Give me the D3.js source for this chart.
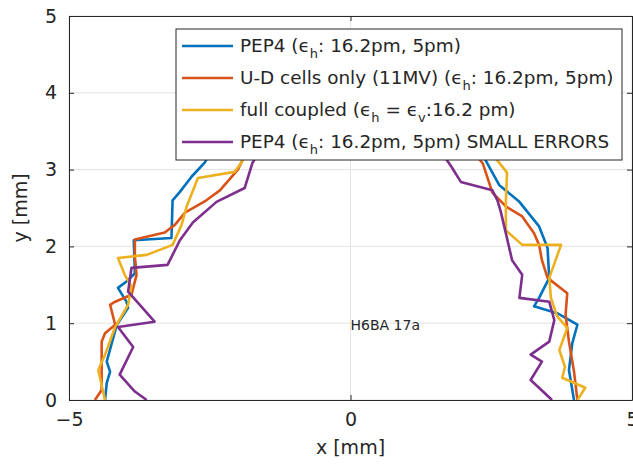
<!DOCTYPE html>
<html>
<head>
<meta charset="utf-8">
<script src="https://cdn.jsdelivr.net/npm/d3@7"></script>
<style>
  body { margin: 0; background: #fff; }
  text { font-family: "DejaVu Sans", sans-serif; fill: #262626; }
</style>
</head>
<body>
<div class="canva"></div>
<script>
// data (mm); top part of each curve sits under the legend
const pep4X = [-4.36,-4.33,-4.27,-4.33,-4.15,-3.95,-3.98,-4.13,-3.95,-3.83,-3.85,-3.18,-3.16,-3.03,-2.82,-2.59,-2.15,-1.08,0,1.22,2.11,2.43,2.64,3.00,3.35,3.50,3.53,3.35,3.26,3.67,4.03,3.94,3.88,3.97];
const pep4Y = [0,0.22,0.37,0.50,0.98,1.20,1.28,1.46,1.56,1.65,2.08,2.11,2.60,2.71,2.91,3.09,3.65,4.30,4.43,4.23,3.52,3.08,2.80,2.58,2.26,1.98,1.59,1.33,1.22,1.13,0.98,0.74,0.39,0];

const udX = [-4.54,-4.42,-4.42,-4.36,-4.18,-4.27,-4.18,-3.89,-3.80,-3.83,-3.83,-3.30,-3.12,-2.94,-2.56,-2.32,-2.00,-1.94,-1.61,0,1.58,2.35,2.52,2.76,3.05,3.26,3.35,3.40,3.50,3.85,3.82,3.88,3.97,4.03];
const udY = [0,0.13,0.76,0.87,0.98,1.24,1.28,1.37,1.63,1.87,2.09,2.18,2.28,2.44,2.60,2.73,3.00,3.09,3.65,4.30,3.78,3.08,2.70,2.52,2.39,2.17,2.02,1.82,1.59,1.39,1.11,0.76,0.37,0];

const fullX = [-4.36,-4.48,-4.36,-4.18,-3.95,-3.89,-4.01,-4.13,-3.62,-3.16,-3.00,-2.91,-2.71,-2.06,-1.94,-1.44,0,1.58,2.64,2.78,2.76,2.76,3.05,3.74,3.53,3.56,3.67,3.85,3.71,3.81,3.76,4.17,4.03];
const fullY = [0,0.39,0.59,0.95,1.24,1.48,1.63,1.85,1.89,2.02,2.28,2.52,2.89,2.97,3.09,3.78,4.36,4.04,3.09,2.96,2.60,2.21,2.02,2.02,1.59,1.33,1.09,0.94,0.65,0.43,0.29,0.16,0];

const smallX = [-3.62,-3.83,-4.10,-3.86,-4.13,-3.48,-3.95,-3.89,-3.25,-3.16,-3.03,-2.80,-2.38,-1.88,-1.74,-1.26,0,1.22,1.79,1.96,2.52,2.61,2.67,2.76,2.87,3.05,3.00,3.53,3.62,3.53,3.20,3.40,3.20,3.58];
const smallY = [0,0.11,0.33,0.69,0.95,1.02,1.41,1.72,1.76,1.89,2.08,2.31,2.58,2.76,3.09,3.65,4.04,3.65,3.04,2.84,2.73,2.60,2.45,2.17,1.82,1.63,1.33,1.28,1.04,0.76,0.59,0.50,0.26,0];

const seriesNames = [
  ["PEP4 (", "ϵ", "h", ": 16.2pm, 5pm)"],
  ["U-D cells only (11MV) (", "ϵ", "h", ": 16.2pm, 5pm)"],
  ["full coupled (", "ϵ", "h", " = ", "ϵ", "v", ":16.2 pm)"],
  ["PEP4 (", "ϵ", "h", ": 16.2pm, 5pm) SMALL ERRORS"]
];
const colors = ["#0072BD", "#D95319", "#EDB120", "#7E2F8E"];

const xTicks = [-5, 0, 5];
const yTicks = [0, 1, 2, 3, 4, 5];

const W = 633, H = 464;
const PLOT = { LEFT: 69, RIGHT: 632, TOP: 16, BOTTOM: 400 };

const svg = d3.select(".canva").append("svg")
    .attr("width", W)
    .attr("height", H);

const x = d3.scaleLinear().domain([-5, 5]).range([PLOT.LEFT, PLOT.RIGHT]);
const y = d3.scaleLinear().domain([0, 5]).range([PLOT.BOTTOM, PLOT.TOP]);

// grid
svg.append("g").selectAll("line").data(xTicks).enter().append("line")
    .attr("x1", d => x(d)).attr("x2", d => x(d))
    .attr("y1", PLOT.TOP).attr("y2", PLOT.BOTTOM)
    .attr("stroke", "#e3e3e3");
svg.append("g").selectAll("line").data(yTicks).enter().append("line")
    .attr("y1", d => y(d)).attr("y2", d => y(d))
    .attr("x1", PLOT.LEFT).attr("x2", PLOT.RIGHT)
    .attr("stroke", "#e3e3e3");

// curves
const allSeries = [[pep4X, pep4Y], [udX, udY], [fullX, fullY], [smallX, smallY]];
const line = d3.line().x(d => x(d[0])).y(d => y(d[1]));
const g = svg.append("g");
allSeries.forEach((s, i) => {
    g.append("path")
        .datum(d3.zip(s[0], s[1]))
        .attr("d", line)
        .attr("fill", "none")
        .attr("stroke", colors[i])
        .attr("stroke-width", 2.6)
        .attr("stroke-linejoin", "round");
});

// axes (MATLAB style, ticks inside)
const axColor = "#262626";
const xAxis = svg.append("g").attr("transform", `translate(0,${PLOT.BOTTOM})`)
    .call(d3.axisBottom(x).tickValues(xTicks).tickSizeInner(-5).tickSizeOuter(0).tickPadding(13).tickFormat(d3.format("d")));
const yAxis = svg.append("g").attr("transform", `translate(${PLOT.LEFT},0)`)
    .call(d3.axisLeft(y).tickValues(yTicks).tickSizeInner(-5).tickSizeOuter(0).tickPadding(12).tickFormat(d3.format("d")));
svg.append("g").attr("transform", `translate(0,${PLOT.TOP})`)
    .call(d3.axisTop(x).tickValues(xTicks).tickSizeInner(-5).tickSizeOuter(0).tickFormat(""));
svg.append("g").attr("transform", `translate(${PLOT.RIGHT},0)`)
    .call(d3.axisRight(y).tickValues(yTicks).tickSizeInner(-5).tickSizeOuter(0).tickFormat(""));
svg.selectAll(".domain, .tick line").attr("stroke", axColor);
xAxis.selectAll("text").attr("font-size", 19).style("fill", axColor);
yAxis.selectAll("text").attr("font-size", 19).style("fill", axColor);

svg.append("text")
    .attr("x", x(0)).attr("y", 454)
    .attr("text-anchor", "middle")
    .attr("font-size", 19)
    .text("x [mm]");
svg.append("text")
    .attr("transform", `translate(27,${y(2.5)}) rotate(-90)`)
    .attr("text-anchor", "middle")
    .attr("font-size", 19)
    .text("y [mm]");

svg.append("text")
    .attr("x", x(0)).attr("y", y(1) + 7)
    .attr("font-size", 14)
    .text("H6BA 17a");

// legend
const LEG = { X: 176, Y: 29, W: 446, H: 131 };
const legend = svg.append("g");
legend.append("rect")
    .attr("x", LEG.X).attr("y", LEG.Y)
    .attr("width", LEG.W).attr("height", LEG.H)
    .attr("fill", "#fff").attr("stroke", axColor);

seriesNames.forEach((parts, i) => {
    const ry = LEG.Y + 17 + i * 32;
    legend.append("line")
        .attr("x1", LEG.X + 6).attr("x2", LEG.X + 57)
        .attr("y1", ry).attr("y2", ry)
        .attr("stroke", colors[i]).attr("stroke-width", 2.6);
    const t = legend.append("text")
        .attr("x", LEG.X + 64).attr("y", ry + 6)
        .attr("font-size", 18.4);
    parts.forEach((p, j) => {
        const isSub = (p === "h" || p === "v") && j > 0 && parts[j - 1] === "ϵ";
        const span = t.append("tspan").text(p);
        if (isSub) span.attr("dy", 6).attr("font-size", 13);
        else if (j > 0 && (parts[j - 1] === "h" || parts[j - 1] === "v") && parts[j - 2] === "ϵ") span.attr("dy", -6);
    });
});
</script>
</body>
</html>
